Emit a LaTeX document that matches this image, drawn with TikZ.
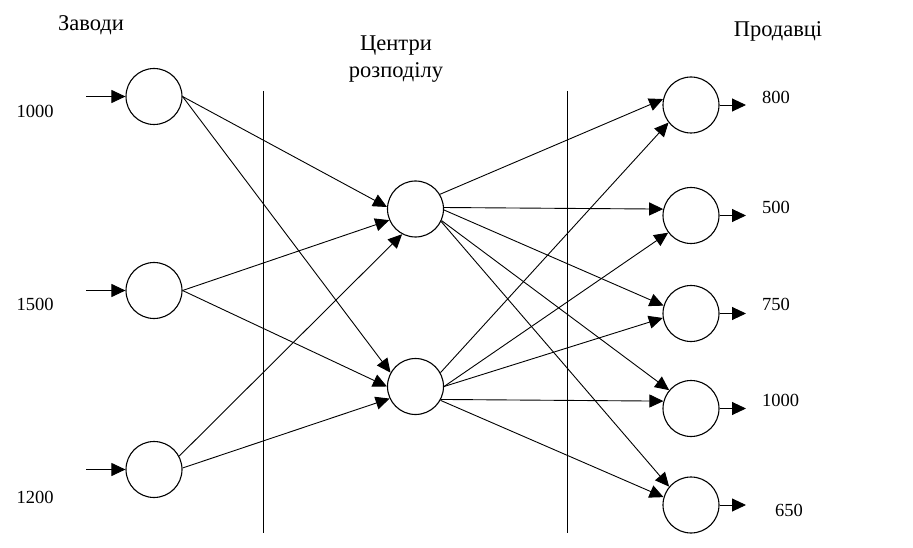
\documentclass[tikz,border=0pt]{standalone}
\usepackage{fontspec}
\setmainfont{Liberation Serif}
\usetikzlibrary{arrows.meta}
\begin{document}
\begin{tikzpicture}[x=1pt,y=-1pt,
  nd/.style={circle,draw,line width=1.1pt,minimum size=56pt,inner sep=0pt},
  arr/.style={-{Triangle[length=14pt,width=13pt]},line width=0.9pt},
  num/.style={font=\fontsize{18.5}{20}\selectfont,inner sep=0pt},
  ttl/.style={font=\fontsize{22.5}{27}\selectfont,inner sep=0pt,align=center},
  sepline/.style={line width=0.9pt}]
\useasboundingbox (0,0) rectangle (913,548);
% separators
\coordinate (s1t) at (263.5,91); \coordinate (s1b) at (263.5,533);
\coordinate (s2t) at (567,91);   \coordinate (s2b) at (567,533);
\draw[sepline] (s1t) -- (s1b);
\draw[sepline] (s2t) -- (s2b);
% nodes
\node[nd] (p1) at (154,96.5) {};
\node[nd] (p2) at (154,290.5) {};
\node[nd] (p3) at (154,469.5) {};
\node[nd] (c1) at (415.5,209) {};
\node[nd] (c2) at (415.5,386.5) {};
\node[nd] (r1) at (691,105) {};
\node[nd] (r2) at (691,215.5) {};
\node[nd] (r3) at (691,313.5) {};
\node[nd] (r4) at (691,408.5) {};
\node[nd] (r5) at (691,505) {};
% inputs
\coordinate (i1) at (86,96.5);
\coordinate (i2) at (86,290.5);
\coordinate (i3) at (86,469.5);
\draw[arr] (i1) -- (p1.west);
\draw[arr] (i2) -- (p2.west);
\draw[arr] (i3) -- (p3.west);
% outputs
\coordinate (o1) at (746,105);
\coordinate (o2) at (746,215.5);
\coordinate (o3) at (746,313.5);
\coordinate (o4) at (746,408.5);
\coordinate (o5) at (746,505);
\draw[arr] (r1.east) -- (o1);
\draw[arr] (r2.east) -- (o2);
\draw[arr] (r3.east) -- (o3);
\draw[arr] (r4.east) -- (o4);
\draw[arr] (r5.east) -- (o5);
% plants to centres
\draw[arr] (p1.east) -- (c1.176);
\draw[arr] (p1.east) -- (c2.151);
\draw[arr] (p2.east) -- (c1.203);
\draw[arr] (p2.east) -- (c2.180);
\draw[arr] (p3.28) -- (c1.242);
\draw[arr] (p3.3) -- (c2.205);
% centres to retailers
\draw[arr] (c1.31) -- (r1.168);
\draw[arr] (c1.3) -- (r2.167);
\draw[arr] (c1.-2) -- (r3.164);
\draw[arr] (c1.-24) -- (r4.140);
\draw[arr] (c1.-26) -- (r5.140);
\draw[arr] (c2.29) -- (r1.218);
\draw[arr] (c2.0) -- (r2.217);
\draw[arr] (c2.0) -- (r3.189);
\draw[arr] (c2.-27) -- (r4.165);
\draw[arr] (c2.-29) -- (r5.164);
% titles
\node[ttl,anchor=base] (t1) at (91,31) {Заводи};
\node[ttl,anchor=base] (t2) at (396,50.5) {Центри};
\node[ttl,anchor=base] (t3) at (396,77.5) {розподілу};
\node[ttl,anchor=base] (t4) at (778,37) {Продавці};
% numbers
\node[num] (n1) at (35,111) {1000};
\node[num] (n2) at (35,304) {1500};
\node[num] (n3) at (35,497) {1200};
\node[num,anchor=west] (m1) at (762,97) {800};
\node[num,anchor=west] (m2) at (762,207) {500};
\node[num,anchor=west] (m3) at (762,304) {750};
\node[num,anchor=west] (m4) at (762,400) {1000};
\node[num,anchor=west] (m5) at (775,510) {650};
\end{tikzpicture}
\end{document}
